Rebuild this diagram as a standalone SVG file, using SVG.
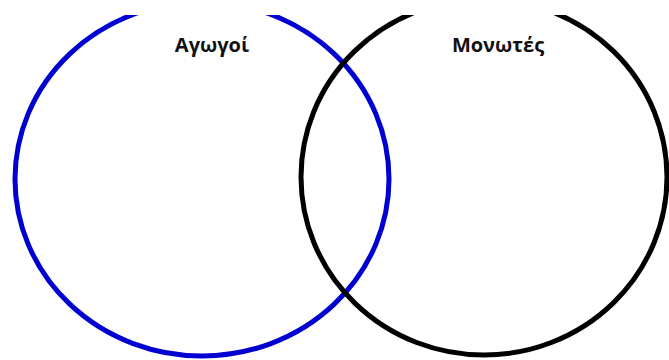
<svg xmlns="http://www.w3.org/2000/svg" width="669" height="360" viewBox="0 0 669 360">
  <style>
    .ring { fill: none; stroke-width: 5; }
    .label { font-family: "Open Sans", "Noto Sans", "DejaVu Sans", sans-serif; font-weight: bold; font-size: 20px; fill: #111; text-anchor: middle; }
  </style>
  <defs>
    <clipPath id="frame"><rect x="0" y="15" width="669" height="345"/></clipPath>
  </defs>
  <rect x="0" y="0" width="669" height="360" fill="#fff"/>
  <g clip-path="url(#frame)">
    <g id="agogoi">
      <ellipse class="ring" cx="202" cy="179" rx="187" ry="177" stroke="#0000d0"/>
    </g>
    <g id="monotes">
      <ellipse class="ring" cx="484" cy="177" rx="183" ry="178" stroke="#000"/>
    </g>
  </g>
  <text class="label" x="212" y="52">Αγωγοί</text>
  <text class="label" x="498" y="52">Μονωτές</text>
</svg>
